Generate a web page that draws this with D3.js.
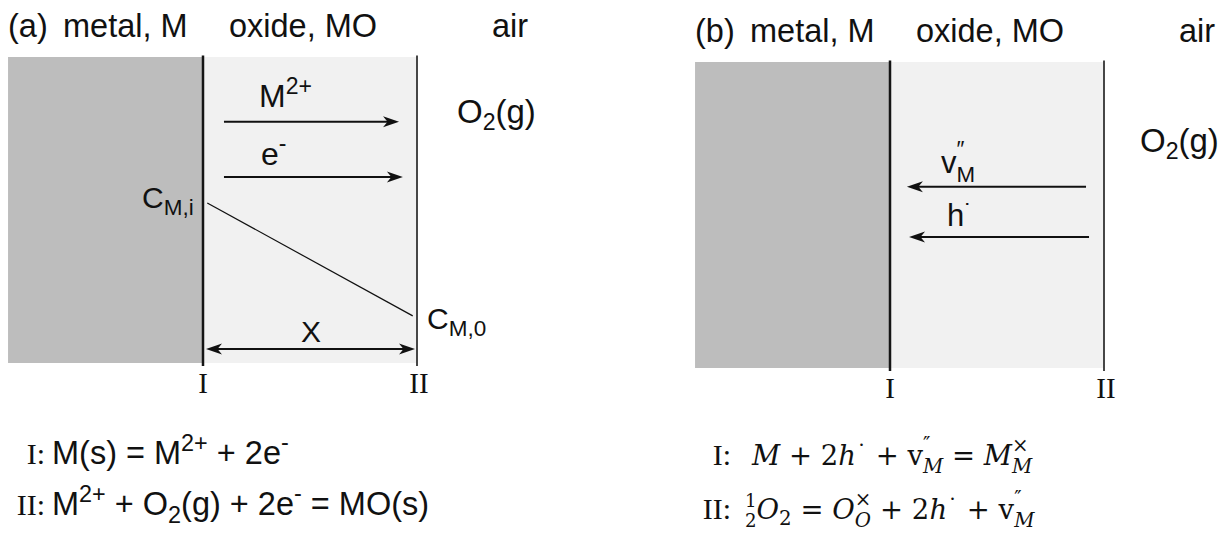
<!DOCTYPE html>
<html>
<head>
<meta charset="utf-8">
<script src="https://cdn.jsdelivr.net/npm/d3@7"></script>
<style>
  html, body { margin: 0; padding: 0; background: #fff; }
  svg text { white-space: pre; }
</style>
</head>
<body>
<svg id="fig" width="1227" height="535"></svg>
<script>
// ---- content ----
const panelTags = ["(a)", "(b)"];
const regionNames = ["metal, M", "oxide, MO", "air"];
const interfaceNames = ["I", "II"];
// layer bounds along the scale direction: metal [-0.911, 0], oxide [0, 1] (oxide thickness X = 1)
const layerBounds = [-0.911, 0, 1];
const layerFills = ["#bdbdbd", "#f1f1f1"];
// cation concentration profile across the oxide (normalised depth units, 1 = top of box)
const profileX = [0.02, 0.98];
const profileC = [0.523, 0.154];
// flux arrows: [from, to] in oxide units and height (0 = top of box, 1 = bottom)
const fluxA = [
  { from: 0.098, to: 0.916, depth: 0.212 },   // M2+
  { from: 0.098, to: 0.934, depth: 0.392 }    // e-
];
const fluxB = [
  { from: 0.916, to: 0.079, depth: 0.408 },   // v''_M
  { from: 0.930, to: 0.089, depth: 0.572 }    // h.
];

const SANS = "'Liberation Sans', Arial, Helvetica, sans-serif";
const SERIF = "'Liberation Serif', 'Times New Roman', serif";
const MATH = "'DejaVu Serif', 'Liberation Serif', serif";
const INK = "#111";

const svg = d3.select("#fig");

// scales shared by both panels (panel (b) is drawn in a translated group)
const x = d3.scaleLinear().domain([0, 1]).range([203, 417]);
const y = d3.scaleLinear().domain([0, 1]).range([57, 363]);
const conc = d3.scaleLinear().domain([0, 1]).range([363, 57]);

// text made of runs: normal, superscript, subscript, or a stacked sup/sub pair
function rich(parent, px, py, segs, base) {
  const g = parent.append("g");
  let cx = 0;
  segs.forEach(s => {
    const size = base.size * (s.scale || 1);
    const fam = s.family || base.family;
    const parts = s.stack
      ? [[s.stack[0], s.up != null ? s.up : -base.size * 0.40, s.it0], [s.stack[1], s.down != null ? s.down : base.size * 0.24, s.it1]]
      : [[s.t, s.dy || 0, s.italic]];
    let w = 0;
    parts.forEach(([t, dy, it]) => {
      const el = g.append("text")
        .attr("x", cx).attr("y", dy)
        .attr("font-family", fam)
        .attr("font-size", size)
        .attr("font-style", it ? "italic" : null)
        .attr("fill", INK)
        .text(t);
      w = Math.max(w, el.node().getComputedTextLength());
    });
    cx += w + (s.gap || 0);
  });
  let shift = 0;
  if (base.anchor === "middle") shift = -cx / 2;
  if (base.anchor === "end") shift = -cx;
  g.attr("transform", `translate(${px + shift},${py})`);
  return g;
}
const sup = (t, k = 0.7, dy = -11) => ({ t, scale: k, dy });
const sub = (t, k = 0.7, dy = 7) => ({ t, scale: k, dy });

function arrowHead(g, tx, ty, dir) {
  const L = 16, W = 5.5, N = 11.5;
  g.append("path")
    .attr("d", `M0,0L${-L},${-W}L${-N},0L${-L},${W}Z`)
    .attr("transform", `translate(${tx},${ty}) rotate(${dir < 0 ? 180 : 0})`)
    .attr("fill", INK);
}

function arrow(g, x0, x1, yy, both) {
  const dir = Math.sign(x1 - x0);
  g.append("line")
    .attr("x1", both ? x0 + dir * 10 : x0).attr("x2", x1 - dir * 10)
    .attr("y1", yy).attr("y2", yy)
    .attr("stroke", INK).attr("stroke-width", 2);
  arrowHead(g, x1, yy, dir);
  if (both) arrowHead(g, x0, yy, -dir);
}

function panel(tag, dx, dy, hdr) {
  const g = svg.append("g").attr("transform", `translate(${dx},${dy})`);

  // layers
  layerFills.forEach((f, i) => {
    g.append("rect")
      .attr("x", x(layerBounds[i])).attr("y", y(0))
      .attr("width", x(layerBounds[i + 1]) - x(layerBounds[i]))
      .attr("height", y(1) - y(0))
      .attr("fill", f);
  });

  // interfaces I and II
  [0, 1].forEach((v, i) => {
    g.append("line")
      .attr("x1", x(v)).attr("x2", x(v))
      .attr("y1", y(0) - 1.5).attr("y2", y(1) + 3)
      .attr("stroke", i === 0 ? "#151515" : "#333")
      .attr("stroke-width", i === 0 ? 2.5 : 1.8);
    g.append("text")
      .attr("x", x(v) + (i ? 2 : 0)).attr("y", 393)
      .attr("text-anchor", "middle")
      .attr("font-family", SERIF).attr("font-size", 29)
      .attr("fill", INK)
      .text(interfaceNames[i]);
  });

  // header
  const hx = [8, 63, 229, 492];
  [tag].concat(regionNames).forEach((t, i) => {
    g.append("text")
      .attr("x", hx[i]).attr("y", hdr)
      .attr("font-family", SANS).attr("font-size", 32.5)
      .attr("fill", INK)
      .text(t);
  });
  return g;
}

// ---------- panel (a): cation interstitial / outward growth ----------
const ga = panel(panelTags[0], 0, 0, 37);

fluxA.forEach(f => arrow(ga, x(f.from), x(f.to), y(f.depth)));
rich(ga, 259, 107, [{ t: "M" }, sup("2+", 0.72, -13)], { family: SANS, size: 32 });
rich(ga, 261, 165, [{ t: "e" }, sup("-", 0.72, -14)], { family: SANS, size: 32 });
rich(ga, 457, 123, [{ t: "O" }, sub("2", 0.7, 7), { t: "(g)" }], { family: SANS, size: 33 });

// concentration gradient across the oxide
ga.append("line")
  .attr("x1", x(profileX[0])).attr("y1", conc(profileC[0]))
  .attr("x2", x(profileX[1])).attr("y2", conc(profileC[1]))
  .attr("stroke", INK).attr("stroke-width", 1.2);
rich(ga, 142, 208, [{ t: "C" }, sub("M,i", 0.75, 7)], { family: SANS, size: 30 });
rich(ga, 427, 329, [{ t: "C" }, sub("M,0", 0.75, 7)], { family: SANS, size: 30 });

// oxide thickness X
arrow(ga, x(0) + 3, x(1) - 2, 349, true);
rich(ga, 311, 342, [{ t: "X" }], { family: SANS, size: 30, anchor: "middle" });

// reactions at I and II
rich(ga, 45, 464, [{ t: "I:", family: SERIF }], { family: SERIF, size: 30, anchor: "end" });
rich(ga, 52, 464, [{ t: "M(s) = M" }, sup("2+", 0.72, -13), { t: " + 2e" }, sup("-", 0.72, -14)],
  { family: SANS, size: 32.5 });
rich(ga, 45, 515, [{ t: "II:", family: SERIF }], { family: SERIF, size: 30, anchor: "end" });
rich(ga, 52, 515, [{ t: "M" }, sup("2+", 0.72, -13), { t: " + O" }, sub("2", 0.72, 8),
  { t: "(g) + 2e" }, sup("-", 0.72, -14), { t: " = MO(s)" }], { family: SANS, size: 32.5 });

// ---------- panel (b): metal vacancies / holes ----------
const gb = panel(panelTags[1], 687, 5, 37);

fluxB.forEach(f => arrow(gb, x(f.from), x(f.to), y(f.depth)));
rich(gb, 254, 168, [{ t: "v" }, { stack: ["\u2033", "M"], scale: 0.72, up: -17, down: 9 }],
  { family: SANS, size: 31 });
rich(gb, 260, 221, [{ t: "h" }, sup("\u02D9", 0.8, -6)], { family: SANS, size: 31 });
rich(gb, 453, 147, [{ t: "O" }, sub("2", 0.7, 7), { t: "(g)" }], { family: SANS, size: 33 });

// Kröger–Vink reactions
const MS = 27.5;
rich(gb, 44, 460, [{ t: "I:", family: SERIF }], { family: SERIF, size: 30, anchor: "end" });
rich(gb, 65, 460, [
  { t: "M", italic: true }, { t: " + 2" }, { t: "h", italic: true }, sup("\u02D9", 0.8, -4),
  { t: " + v" }, { stack: ["\u2033", "M"], it1: true, scale: 0.72, up: -14, down: 8 },
  { t: " = " }, { t: "M", italic: true },
  { stack: ["\u00D7", "M"], it1: true, scale: 0.72, up: -13, down: 8 }
], { family: MATH, size: MS });
rich(gb, 44, 514, [{ t: "II:", family: SERIF }], { family: SERIF, size: 30, anchor: "end" });
rich(gb, 58, 514, [
  { stack: ["1", "2"], scale: 0.66, up: -12, down: 8 }, { t: "O", italic: true }, sub("2", 0.72, 6),
  { t: " = " }, { t: "O", italic: true },
  { stack: ["\u00D7", "O"], it1: true, scale: 0.72, up: -13, down: 8 },
  { t: " + 2" }, { t: "h", italic: true }, sup("\u02D9", 0.8, -4),
  { t: " + v" }, { stack: ["\u2033", "M"], it1: true, scale: 0.72, up: -14, down: 8 }
], { family: MATH, size: MS });
</script>
</body>
</html>
